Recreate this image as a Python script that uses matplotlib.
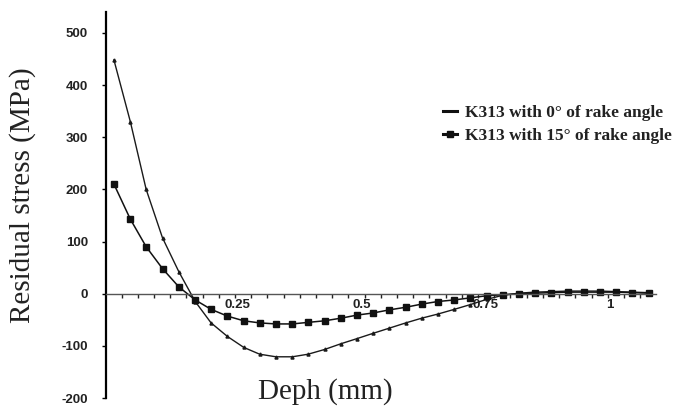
import matplotlib.pyplot as plt
from matplotlib.ticker import MultipleLocator, FixedLocator
from matplotlib.lines import Line2D

plt.rcParams['axes.unicode_minus'] = False

# depth (mm)
depth = [0.000, 0.033, 0.065, 0.098, 0.131, 0.164, 0.196, 0.229, 0.262, 0.294,
         0.327, 0.360, 0.392, 0.425, 0.458, 0.491, 0.523, 0.556, 0.589, 0.621,
         0.654, 0.687, 0.719, 0.752, 0.785, 0.818, 0.850, 0.883, 0.916, 0.948,
         0.981, 1.014, 1.046, 1.079]

# residual stress (MPa), rake angle 0 deg
stress_0 = [448, 330, 200, 107, 42, -15, -56, -82, -103, -116,
            -121, -121, -116, -107, -96, -86, -76, -66, -56, -47,
            -39, -30, -21, -11, -3, 1, 3, 4, 5, 5,
            5, 4, 3, 2]

# residual stress (MPa), rake angle 15 deg
stress_15 = [210, 143, 90, 48, 13, -12, -30, -43, -52, -56,
             -58, -58, -55, -52, -47, -41, -37, -31, -26, -20,
             -15, -12, -8, -4, -2, 0, 1, 2, 3, 3,
             3, 3, 2, 1]

x_ticks = [0.25, 0.5, 0.75, 1]
x_tick_labels = ["0.25", "0.5", "0.75", "1"]
y_ticks = [-200, -100, 0, 100, 200, 300, 400, 500]

fig = plt.figure(figsize=(6.77, 4.07), dpi=100)
ax = fig.add_axes([0.1566, 0.0221, 0.8124, 0.9484])

ax.plot(depth, stress_0, color="#1a1a1a", lw=1.0, marker="^", ms=2.2,
        label="K313 with 0\u00b0 of rake angle")
ax.plot(depth, stress_15, color="#111111", lw=1.1, marker="s", ms=4.3,
        label="K313 with 15\u00b0 of rake angle")

ax.set_xlim(-0.016, 1.094)
ax.set_ylim(-200, 540)

# spines: y axis on the left, x axis drawn through zero
ax.spines["top"].set_visible(False)
ax.spines["right"].set_visible(False)
ax.spines["left"].set_linewidth(1.6)
ax.spines["bottom"].set_position(("data", 0))
ax.spines["bottom"].set_color("#555555")
ax.spines["bottom"].set_linewidth(1.0)

tick_font = dict(family="Liberation Sans", size=9.5, weight="bold", color="#222222")

ax.yaxis.set_major_locator(FixedLocator(y_ticks))
ax.tick_params(axis="y", direction="out", length=3, width=1, pad=10)
for lbl in ax.get_yticklabels():
    lbl.set(**tick_font)

ax.xaxis.set_major_locator(FixedLocator(x_ticks))
ax.set_xticklabels(x_tick_labels, **tick_font)
ax.xaxis.set_minor_locator(MultipleLocator(0.0327, offset=0.0155))
ax.tick_params(axis="x", which="major", length=0, pad=4)
ax.tick_params(axis="x", which="minor", direction="out", length=3, width=1, color="#222222")

fig.text(0.033, 0.52, "Residual stress (MPa)", rotation=90, ha="center", va="center",
         family="Liberation Serif", fontsize=21, color="#222222")
fig.text(0.48, 0.037, "Deph (mm)", ha="center", va="center",
         family="Liberation Serif", fontsize=21, color="#222222")

handles = [Line2D([], [], color="#111111", lw=2.2),
           Line2D([], [], color="#111111", lw=2.2, marker="s", ms=5)]
leg = ax.legend(handles, ["K313 with 0\u00b0 of rake angle", "K313 with 15\u00b0 of rake angle"],
                loc="upper left", bbox_to_anchor=(0.585, 0.80), frameon=False,
                handlelength=0.8, handletextpad=0.45, labelspacing=0.4,
                prop=dict(family="Liberation Serif", size=12.5, weight="bold"))
for t in leg.get_texts():
    t.set_color("#222222")

fig.savefig("out.png", dpi=100)
